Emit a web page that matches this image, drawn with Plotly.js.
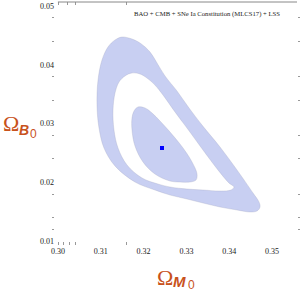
<!DOCTYPE html>
<html>
<head>
<meta charset="utf-8">
<script src="https://cdn.plot.ly/plotly-3.0.1.min.js"></script>
<style>html,body{margin:0;padding:0;background:#fff;}#chart{width:300px;height:292px;}</style>
</head>
<body>
<div id="chart"></div>
<script>
// 2-sigma region, outer boundary (Omega_M0, Omega_B0)
var outerX = [0.31495,0.31729,0.31916,0.32150,0.32313,0.32500,0.32780,0.33061,0.33364,0.33785,0.34182,0.34556,0.34696,0.34720,0.34650,0.34486,0.34182,0.33785,0.33388,0.33014,0.32617,0.32266,0.31799,0.31332,0.31075,0.30958,0.30911,0.30935,0.31028,0.31168,0.31332,0.31495];
var outerY = [0.04472,0.04438,0.04370,0.04217,0.04030,0.03809,0.03553,0.03264,0.02974,0.02600,0.02209,0.01817,0.01664,0.01579,0.01511,0.01494,0.01528,0.01579,0.01647,0.01715,0.01783,0.01868,0.02004,0.02277,0.02583,0.02923,0.03315,0.03740,0.04081,0.04302,0.04421,0.04472];
// 2-sigma region, inner boundary
var holeX = [0.31729,0.31916,0.32079,0.32266,0.32453,0.32734,0.33014,0.33388,0.33738,0.33995,0.34112,0.34042,0.33785,0.33388,0.33014,0.32617,0.32336,0.31963,0.31612,0.31402,0.31308,0.31285,0.31332,0.31425,0.31565,0.31729];
var holeY = [0.03860,0.03843,0.03774,0.03655,0.03485,0.03196,0.02923,0.02549,0.02209,0.01987,0.01919,0.01868,0.01851,0.01868,0.01885,0.01919,0.01970,0.02072,0.02294,0.02583,0.02889,0.03230,0.03519,0.03706,0.03809,0.03860];
// 1-sigma region
var innerX = [0.31869,0.32033,0.32196,0.32383,0.32617,0.32921,0.33131,0.33248,0.33224,0.33084,0.32850,0.32617,0.32266,0.31986,0.31799,0.31729,0.31729,0.31776,0.31869];
var innerY = [0.03281,0.03264,0.03179,0.03043,0.02855,0.02583,0.02345,0.02140,0.02038,0.02004,0.02004,0.02021,0.02140,0.02345,0.02617,0.02889,0.03094,0.03213,0.03281];
// best fit
var bestX = [0.3243];
var bestY = [0.02583];

var xTickVals = [0.30,0.31,0.32,0.33,0.34,0.35];
var xTickText = ["0.30","0.31","0.32","0.33","0.34","0.35"];
var yTickVals = [0.01,0.02,0.03,0.04,0.05];
var yTickText = ["0.01","0.02","0.03","0.04","0.05"];
var xMinorBottom = [0.300,0.3014,0.3028,0.3042,0.3161];
var xMinorTop = [0.300,0.3023,0.3042,0.3161];
var yMinor = [0.048,0.044,0.038,0.034,0.028,0.024,0.018,0.014,0.012];

var fillCol = "rgb(200,207,242)";
var edgeCol = "rgba(160,165,190,0.6)";
var titleCol = "rgb(200,82,28)";

var traces = [
  {x: outerX, y: outerY, type: "scatter", mode: "lines", fill: "toself", fillcolor: fillCol,
   line: {color: edgeCol, width: 0.5, shape: "spline", smoothing: 1}, hoverinfo: "skip"},
  {x: holeX, y: holeY, type: "scatter", mode: "lines", fill: "toself", fillcolor: "#ffffff",
   line: {color: edgeCol, width: 0.5, shape: "spline", smoothing: 1}, hoverinfo: "skip"},
  {x: innerX, y: innerY, type: "scatter", mode: "lines", fill: "toself", fillcolor: fillCol,
   line: {color: edgeCol, width: 0.5, shape: "spline", smoothing: 1}, hoverinfo: "skip"},
  {x: bestX, y: bestY, type: "scatter", mode: "markers",
   marker: {color: "rgb(0,0,255)", size: 4, symbol: "square"}},
  {x: [], y: [], xaxis: "x2", yaxis: "y2", type: "scatter"},
  {x: [], y: [], xaxis: "x3", yaxis: "y2", type: "scatter"}
];

var xr = [0.2993, 0.35584];
var yr = [0.00932, 0.05068];
var tickFont = {family: "Liberation Serif, serif", size: 8, color: "#222"};

var layout = {
  width: 300, height: 292,
  margin: {l: 55, r: 3, t: 2, b: 47},
  paper_bgcolor: "#fff", plot_bgcolor: "#fff",
  showlegend: false,
  xaxis: {range: xr, tickmode: "array", tickvals: xTickVals, ticktext: xTickText,
    ticks: "", showgrid: false, zeroline: false, showline: false, tickfont: tickFont, color: "#222"},
  yaxis: {range: yr, tickmode: "array", tickvals: yTickVals, ticktext: yTickText,
    ticks: "", showgrid: false, zeroline: false, showline: false, tickfont: tickFont, color: "#222"},
  xaxis2: {overlaying: "x", range: xr, side: "bottom", tickmode: "array", tickvals: xMinorBottom,
    showticklabels: false, ticks: "inside", ticklen: 3, tickcolor: "#999", tickwidth: 1,
    showgrid: false, zeroline: false, showline: false},
  xaxis3: {overlaying: "x", range: xr, side: "top", tickmode: "array", tickvals: xMinorTop,
    showticklabels: false, ticks: "inside", ticklen: 3, tickcolor: "#999", tickwidth: 1,
    showgrid: false, zeroline: false, showline: false},
  yaxis2: {overlaying: "y", range: yr, side: "left", tickmode: "array", tickvals: yMinor,
    showticklabels: false, ticks: "outside", ticklen: 2, tickcolor: "#999", tickwidth: 1,
    mirror: "ticks", showgrid: false, zeroline: false, showline: false},
  shapes: [
    {type: "line", xref: "paper", yref: "paper", x0: 0.012, x1: 1, y0: 1, y1: 1,
     line: {color: "#888", width: 1}}
  ],
  annotations: [
    {text: "BAO + CMB + SNe Ia Constitution (MLCS17) + LSS", xref: "paper", yref: "paper",
     x: 0.318, y: 0.9506, xanchor: "left", yanchor: "middle", showarrow: false,
     font: {family: "Liberation Serif, serif", size: 6.7, color: "#222"}},
    {text: "Ω", xref: "paper", yref: "paper", x: -0.1818, y: 0.498, xanchor: "center", yanchor: "middle",
     showarrow: false, font: {family: "Liberation Serif, serif", size: 22, color: titleCol}},
    {text: "<b><i>B</i></b>", xref: "paper", yref: "paper", x: -0.13, y: 0.474, xanchor: "center", yanchor: "middle",
     showarrow: false, font: {family: "Liberation Sans, sans-serif", size: 14, color: titleCol}},
    {text: "0", xref: "paper", yref: "paper", x: -0.088, y: 0.456, xanchor: "center", yanchor: "middle",
     showarrow: false, font: {family: "Liberation Sans, sans-serif", size: 12, color: titleCol}},
    {text: "Ω", xref: "paper", yref: "paper", x: 0.4545, y: -0.1317, xanchor: "center", yanchor: "middle",
     showarrow: false, font: {family: "Liberation Serif, serif", size: 22, color: titleCol}},
    {text: "<b><i>M</i></b>", xref: "paper", yref: "paper", x: 0.5165, y: -0.152, xanchor: "center", yanchor: "middle",
     showarrow: false, font: {family: "Liberation Sans, sans-serif", size: 15, color: titleCol}},
    {text: "0", xref: "paper", yref: "paper", x: 0.565, y: -0.164, xanchor: "center", yanchor: "middle",
     showarrow: false, font: {family: "Liberation Sans, sans-serif", size: 12, color: titleCol}}
  ]
};

Plotly.newPlot("chart", traces, layout, {displayModeBar: false, staticPlot: true});
</script>
</body>
</html>
